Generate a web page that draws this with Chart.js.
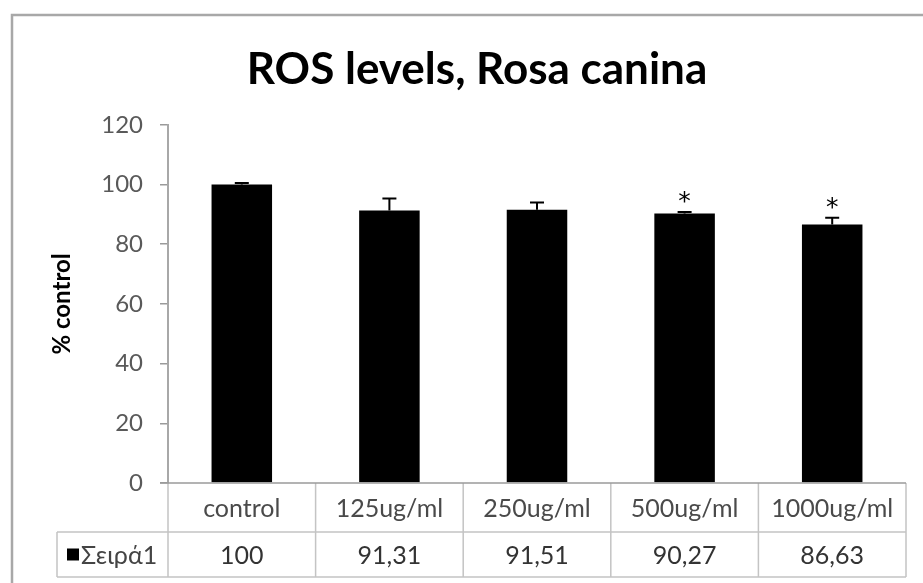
<!DOCTYPE html>
<html><head><meta charset="utf-8">
<script src="https://cdn.jsdelivr.net/npm/chart.js@4/dist/chart.umd.min.js"></script>
<style>html,body{margin:0;padding:0;background:#fff;}#wrap{position:relative;width:923px;height:583px;}</style>
</head><body><div id="wrap"><canvas id="c" width="923" height="583"></canvas></div>
<script>
// ---- data ----
const chartTitle = 'ROS levels, Rosa canina';
const yAxisTitle = '% control';
const categories = ['control', '125ug/ml', '250ug/ml', '500ug/ml', '1000ug/ml'];
const seriesName = 'Σειρά1';
const values = [100, 91.31, 91.51, 90.27, 86.63];
const errors = [0.5, 4.0, 2.5, 0.5, 2.2];
const significance = ['', '', '', '*', '*'];
const yMin = 0, yMax = 120, yStep = 20;

const FONT = 'Lato, "Noto Sans", "Liberation Sans", sans-serif';
const fmt = v => String(v).replace('.', ',');

const extras = {
  id: 'extras',
  beforeDraw(chart) {
    const ctx = chart.ctx;
    ctx.save();
    ctx.fillStyle = '#fff';
    ctx.fillRect(0, 0, chart.width, chart.height);
    ctx.strokeStyle = '#a8a8a8';
    ctx.lineWidth = 2.5;
    ctx.beginPath();
    ctx.moveTo(12, chart.height);
    ctx.lineTo(12, 15);
    ctx.lineTo(chart.width, 15);
    ctx.stroke();
    ctx.restore();
  },
  afterDatasetsDraw(chart) {
    const ctx = chart.ctx;
    const ys = chart.scales.y;
    const meta = chart.getDatasetMeta(0);
    ctx.save();
    ctx.strokeStyle = '#000';
    ctx.lineWidth = 2;
    meta.data.forEach((bar, i) => {
      const x = bar.x;
      const yTop = ys.getPixelForValue(values[i] + errors[i]);
      ctx.beginPath();
      ctx.moveTo(x, bar.y);
      ctx.lineTo(x, yTop);
      ctx.moveTo(x - 7, yTop);
      ctx.lineTo(x + 7, yTop);
      ctx.stroke();
      if (significance[i]) {
        ctx.fillStyle = '#000';
        ctx.font = '25px "DejaVu Sans", sans-serif';
        ctx.textAlign = 'center';
        ctx.textBaseline = 'alphabetic';
        ctx.fillText(significance[i], x, yTop - 3);
      }
    });
    ctx.restore();
  },
  afterDraw(chart) {
    const ctx = chart.ctx;
    const xs = chart.scales.x;
    const ca = chart.chartArea;
    const n = categories.length;
    const cw = (ca.right - ca.left) / n;
    const top = ca.bottom;
    const mid = top + 49;
    const bot = top + 94;
    const legendLeft = 57;
    ctx.save();
    // table lines
    ctx.strokeStyle = '#c4c4c4';
    ctx.lineWidth = 1.5;
    ctx.beginPath();
    ctx.moveTo(legendLeft, mid); ctx.lineTo(ca.right, mid);
    ctx.moveTo(legendLeft, bot); ctx.lineTo(ca.right, bot);
    ctx.moveTo(legendLeft, mid); ctx.lineTo(legendLeft, bot);
    for (let i = 0; i <= n; i++) {
      const x = ca.left + i * cw;
      ctx.moveTo(x, top); ctx.lineTo(x, bot);
    }
    ctx.stroke();
    // axis line at zero
    ctx.strokeStyle = '#9a9a9a';
    ctx.beginPath();
    ctx.moveTo(ca.left - 8, top); ctx.lineTo(ca.right, top);
    ctx.stroke();
    // texts
    ctx.textAlign = 'center';
    ctx.textBaseline = 'middle';
    ctx.font = '25px ' + FONT;
    categories.forEach((c, i) => {
      const x = xs.getPixelForValue(i);
      ctx.fillStyle = '#4a4a4a';
      ctx.fillText(c, x, (top + mid) / 2 + 1);
      ctx.fillStyle = '#333';
      ctx.fillText(fmt(values[i]), x, (mid + bot) / 2 + 1);
    });
    // legend key
    ctx.fillStyle = '#000';
    ctx.fillRect(67, (mid + bot) / 2 - 6, 12, 12);
    ctx.textAlign = 'left';
    ctx.fillStyle = '#444';
    ctx.fillText(seriesName, 81, (mid + bot) / 2 + 1);
    ctx.restore();
  }
};

new Chart(document.getElementById('c'), {
  type: 'bar',
  data: {
    labels: categories,
    datasets: [{
      label: seriesName,
      data: values,
      backgroundColor: '#000',
      borderWidth: 0,
      barPercentage: 0.41,
      categoryPercentage: 1
    }]
  },
  options: {
    responsive: false,
    animation: false,
    devicePixelRatio: 1,
    layout: { padding: { top: 0, right: 17, bottom: 100, left: 48 } },
    plugins: {
      legend: { display: false },
      tooltip: { enabled: false },
      title: {
        display: true,
        text: chartTitle,
        color: '#000',
        font: { family: FONT, size: 44, weight: 'bold', lineHeight: 1.2 },
        padding: { top: 43, bottom: 29 }
      }
    },
    scales: {
      x: { display: false },
      y: {
        min: yMin, max: yMax,
        ticks: { stepSize: yStep, color: '#595959', font: { family: FONT, size: 24 }, padding: 17 },
        grid: { drawOnChartArea: false, drawTicks: true, tickLength: 8, color: '#9a9a9a', lineWidth: 1.5 },
        border: { color: '#a8a8a8', width: 2 },
        title: { display: true, text: yAxisTitle, color: '#000', font: { family: FONT, size: 24, weight: 'bold', lineHeight: 1.2 }, padding: { top: 0, bottom: 0 } },
        afterFit(s) { s.width = 120; }
      }
    }
  },
  plugins: [extras]
});
</script></body></html>
